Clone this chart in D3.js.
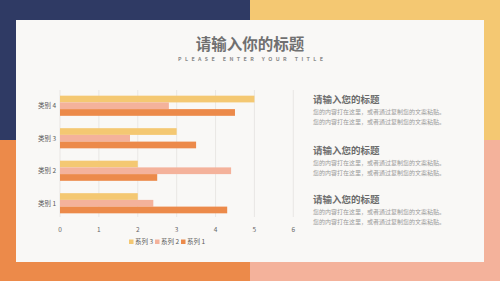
<!DOCTYPE html>
<html lang="zh">
<head>
<meta charset="UTF-8">
<script src="https://d3js.org/d3.v7.min.js"></script>
<style>
  html, body { margin: 0; padding: 0; background: #f9f8f6; }
  svg { display: block; font-family: "Noto Sans CJK SC", "Noto Sans", sans-serif; }
</style>
</head>
<body>
<div id="chart"></div>
<script>
// chart data
const categories = ["类别 1", "类别 2", "类别 3", "类别 4"];
const seriesNames = ["系列 1", "系列 2", "系列 3"];
const series1 = [4.3, 2.5, 3.5, 4.5];
const series2 = [2.4, 4.4, 1.8, 2.8];
const series3 = [2, 2, 3, 5];
const xTicks = [0, 1, 2, 3, 4, 5, 6];

const blockTitle = "请输入您的标题";
const blockLine = "您的内容打在这里，或者通过复制您的文案粘贴。";

const W = 500, H = 281;
const colors = {"系列 1": "#ec8a4a", "系列 2": "#f4b29b", "系列 3": "#f4c872"};

const svg = d3.select("#chart").append("svg")
  .attr("width", W).attr("height", H);

// background quadrants + card
svg.append("rect").attr("x", 0).attr("y", 0).attr("width", 250).attr("height", 140).attr("fill", "#2f3a64");
svg.append("rect").attr("x", 250).attr("y", 0).attr("width", 250).attr("height", 140).attr("fill", "#f4c872");
svg.append("rect").attr("x", 0).attr("y", 140).attr("width", 250).attr("height", 141).attr("fill", "#ec8a4a");
svg.append("rect").attr("x", 250).attr("y", 140).attr("width", 250).attr("height", 141).attr("fill", "#f4b29b");
svg.append("rect").attr("x", 16).attr("y", 20).attr("width", 468).attr("height", 242).attr("fill", "#f9f8f6");

// title
svg.append("text").attr("x", 250).attr("y", 50)
  .attr("text-anchor", "middle").attr("font-size", 15.5).attr("font-weight", "bold")
  .attr("fill", "#707070").text("请输入你的标题");
svg.append("text").attr("x", 178).attr("y", 60.5)
  .attr("font-size", 5.3).attr("font-weight", "bold").attr("fill", "#8a8a8a")
  .attr("textLength", 145).attr("lengthAdjust", "spacing")
  .text("PLEASE ENTER YOUR TITLE");

// chart area
const x = d3.scaleLinear().domain([0, 6]).range([60, 293.3]);
const y = d3.scaleBand().domain(categories.slice().reverse()).range([89.5, 219.5]).paddingInner(0.38).paddingOuter(0.19);
const rows = categories.map((c, i) => ({cat: c, "系列 1": series1[i], "系列 2": series2[i], "系列 3": series3[i]}));
const inner = d3.scaleBand().domain(["系列 3", "系列 2", "系列 1"]).range([0, y.bandwidth()]);

const g = svg.append("g");
g.selectAll(".grid").data(xTicks).join("line")
  .attr("x1", d => x(d)).attr("x2", d => x(d))
  .attr("y1", 90).attr("y2", 217)
  .attr("stroke", "#e2e0dd").attr("stroke-width", 0.7);

g.selectAll(".grp").data(rows).join("g")
  .attr("transform", d => `translate(0,${y(d.cat)})`)
  .selectAll("rect").data(d => ["系列 3", "系列 2", "系列 1"].map(s => ({s, v: d[s]})))
  .join("rect")
    .attr("x", x(0)).attr("y", d => inner(d.s))
    .attr("width", d => x(d.v) - x(0)).attr("height", inner.bandwidth())
    .attr("fill", d => colors[d.s]);

// category labels
g.selectAll(".cat").data(categories).join("text")
  .attr("x", 56).attr("y", d => y(d) + y.bandwidth() / 2 + 2.3)
  .attr("text-anchor", "end").attr("font-size", 6.5).attr("fill", "#595959")
  .text(d => d);

// tick labels
g.selectAll(".tick").data(xTicks).join("text")
  .attr("x", d => x(d)).attr("y", 231.5)
  .attr("text-anchor", "middle").attr("font-size", 6.5).attr("fill", "#666")
  .text(d => d);

// legend
const legend = svg.append("g").attr("transform", "translate(129,242)");
const legendOrder = ["系列 3", "系列 2", "系列 1"];
legendOrder.forEach((s, i) => {
  const lx = i * 26;
  legend.append("rect").attr("x", lx).attr("y", -2.5).attr("width", 4.5).attr("height", 4.5).attr("fill", colors[s]);
  legend.append("text").attr("x", lx + 6).attr("y", 2.2)
    .attr("font-size", 6.5).attr("fill", "#595959").text(s);
});

// right text blocks
const blockY = [100, 151, 200];
blockY.forEach(by => {
  svg.append("text").attr("x", 313).attr("y", by + 3.3)
    .attr("font-size", 9.5).attr("font-weight", "bold").attr("fill", "#6b6b6b").text(blockTitle);
  [11.7, 21.7].forEach(dy => {
    svg.append("text").attr("x", 313).attr("y", by + dy + 2)
      .attr("font-size", 6).attr("fill", "#9a9a9a").text(blockLine);
  });
});
</script>
</body>
</html>
